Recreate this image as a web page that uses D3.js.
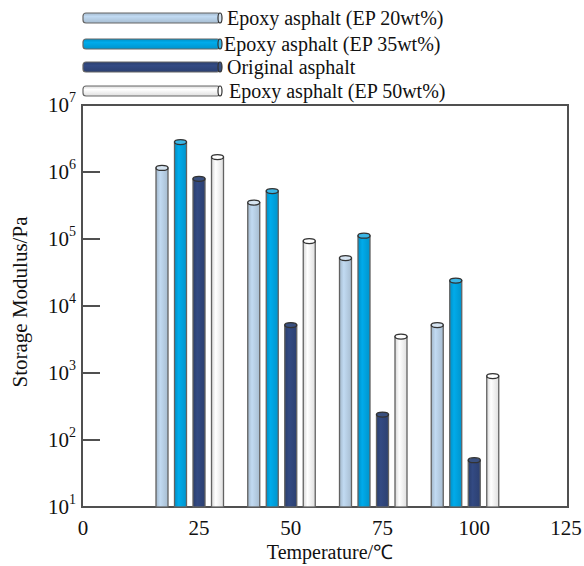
<!DOCTYPE html>
<html>
<head>
<meta charset="utf-8">
<script src="https://cdn.jsdelivr.net/npm/d3@7"></script>
<style>
	body { margin: 0; background: #fff; }
	text { font-family: "Liberation Serif", "Times New Roman", serif; fill: #111; }
</style>
</head>
<body>
<div id="chart"></div>
<script>
// values
var temperatures = [25, 50, 75, 100];
var seriesNames = ['Epoxy asphalt (EP 20wt%)', 'Epoxy asphalt (EP 35wt%)', 'Original asphalt', 'Epoxy asphalt (EP 50wt%)'];
var ep20 = [1.15e6, 3.5e5, 5.2e4, 5.2e3];
var ep35 = [2.8e6, 5.2e5, 1.12e5, 2.4e4];
var original = [7.9e5, 5.2e3, 240, 50];
var ep50 = [1.67e6, 9.3e4, 3.5e3, 900];
var xTicks = [0, 25, 50, 75, 100, 125];
var yTicks = [1e1, 1e2, 1e3, 1e4, 1e5, 1e6, 1e7];

var seriesValues = [ep20, ep35, original, ep50];
var colors = ['#b7cfe5', '#00a2df', '#30467c', '#f4f4f4'];
var topColors = ['#d6e4f1', '#3bb6e6', '#3a507f', '#ffffff'];

var width = 584,
	height = 566,
	margin = { left: 82, right: 16, top: 105, bottom: 59 };

// the source axis is stretched between 0 and 25, so the scale has a break there
var x = d3.scaleLinear().domain([0, 25, 125]).range([83, 199, 566]);
var y = d3.scaleLog().domain([1e1, 1e7]).range([height - margin.bottom, margin.top]);
var inner = d3.scalePoint().domain(d3.range(seriesNames.length)).range([-37, 18.5]);
var barWidth = 12;

var svg = d3.select('#chart').append('svg')
	.attr('width', width)
	.attr('height', height);

var defs = svg.append('defs');
colors.forEach(function(c, i) {
	var g = defs.append('linearGradient')
		.attr('id', 'cyl' + i)
		.attr('x1', '0%').attr('x2', '100%').attr('y1', '0%').attr('y2', '0%');
	var base = d3.color(c);
	g.append('stop').attr('offset', '0%').attr('stop-color', base.darker(0.35));
	g.append('stop').attr('offset', '35%').attr('stop-color', base.brighter(0.15));
	g.append('stop').attr('offset', '100%').attr('stop-color', base.darker(0.25));
	var h = defs.append('linearGradient')
		.attr('id', 'leg' + i)
		.attr('x1', '0%').attr('x2', '0%').attr('y1', '0%').attr('y2', '100%');
	h.append('stop').attr('offset', '0%').attr('stop-color', base.darker(0.3));
	h.append('stop').attr('offset', '35%').attr('stop-color', base.brighter(0.15));
	h.append('stop').attr('offset', '100%').attr('stop-color', base.darker(0.25));
});

// frame
svg.append('rect')
	.attr('x', margin.left)
	.attr('y', margin.top)
	.attr('width', width - margin.left - margin.right)
	.attr('height', height - margin.top - margin.bottom)
	.attr('fill', 'none')
	.attr('stroke', '#505050')
	.attr('stroke-width', 2);

// y ticks pointing inward
svg.selectAll('.ytick')
	.data(yTicks.slice(1, -1))
	.enter().append('line')
	.attr('class', 'ytick')
	.attr('x1', margin.left)
	.attr('x2', margin.left + 18)
	.attr('y1', function(d) { return y(d); })
	.attr('y2', function(d) { return y(d); })
	.attr('stroke', '#505050')
	.attr('stroke-width', 2);

var yLab = svg.selectAll('.ylab')
	.data(yTicks)
	.enter().append('text')
	.attr('class', 'ylab')
	.attr('x', margin.left - 6)
	.attr('y', function(d) { return y(d) + 7; })
	.attr('text-anchor', 'end')
	.style('font-size', '21px');
yLab.append('tspan').text('10');
yLab.append('tspan')
	.attr('dy', -10)
	.style('font-size', '14px')
	.text(function(d) { return Math.round(Math.log10(d)); });

svg.selectAll('.xlab')
	.data(xTicks)
	.enter().append('text')
	.attr('class', 'xlab')
	.attr('x', function(d) { return x(d); })
	.attr('y', height - margin.bottom + 28)
	.attr('text-anchor', 'middle')
	.style('font-size', '21px')
	.text(function(d) { return d; });

svg.append('text')
	.attr('x', 330)
	.attr('y', 559)
	.attr('text-anchor', 'middle')
	.style('font-size', '20px')
	.text('Temperature/℃');

svg.append('text')
	.attr('transform', 'translate(27,302) rotate(-90)')
	.attr('text-anchor', 'middle')
	.style('font-size', '21px')
	.text('Storage Modulus/Pa');

// cylinders
var series = svg.selectAll('.series')
	.data(seriesValues)
	.enter().append('g')
	.attr('class', 'series');

var bars = series.selectAll('.bar')
	.data(function(vals, si) {
		return vals.map(function(v, gi) {
			return { s: si, t: temperatures[gi], v: v };
		});
	})
	.enter().append('g')
	.attr('class', 'bar');

bars.append('rect')
	.attr('x', function(d) { return x(d.t) + inner(d.s) - barWidth / 2; })
	.attr('y', function(d) { return y(d.v); })
	.attr('width', barWidth)
	.attr('height', function(d) { return y(1e1) - y(d.v); })
	.attr('fill', function(d) { return 'url(#cyl' + d.s + ')'; })
	.attr('stroke', '#626262')
	.attr('stroke-width', 1.3);

bars.append('ellipse')
	.attr('cx', function(d) { return x(d.t) + inner(d.s); })
	.attr('cy', function(d) { return y(d.v); })
	.attr('rx', barWidth / 2)
	.attr('ry', 2.5)
	.attr('fill', function(d) { return topColors[d.s]; })
	.attr('stroke', '#333')
	.attr('stroke-width', 1.3);

// legend
var legend = svg.selectAll('.legend')
	.data(seriesNames)
	.enter().append('g')
	.attr('class', 'legend')
	.attr('transform', function(d, i) { return 'translate(0,' + [18, 44, 67, 91][i] + ')'; });

legend.append('rect')
	.attr('x', 83)
	.attr('y', -5)
	.attr('width', 137)
	.attr('height', 10)
	.attr('rx', 3)
	.attr('fill', function(d, i) { return 'url(#leg' + i + ')'; })
	.attr('stroke', '#666')
	.attr('stroke-width', 1.2);

legend.append('ellipse')
	.attr('cx', 220)
	.attr('cy', 0)
	.attr('rx', 2)
	.attr('ry', 5)
	.attr('fill', function(d, i) { return topColors[i]; })
	.attr('stroke', '#333')
	.attr('stroke-width', 1.2);

legend.append('text')
	.attr('x', function(d, i) { return [227, 224, 227, 229][i]; })
	.attr('y', 7)
	.style('font-size', '20px')
	.text(function(d) { return d; });
</script>
</body>
</html>
